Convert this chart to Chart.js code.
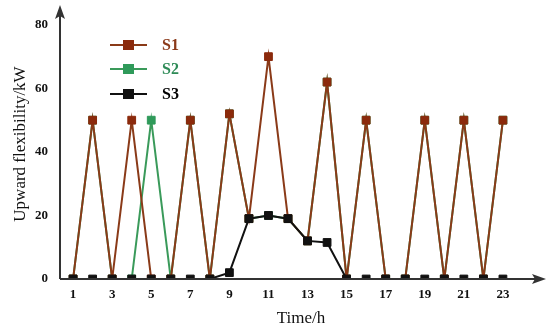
<!DOCTYPE html>
<html>
<head>
<meta charset="utf-8">
<script src="https://cdn.jsdelivr.net/npm/chart.js@4"></script>
<style>
  body { margin: 0; background: #fff; }
  #wrap { width: 550px; height: 333px; }
</style>
</head>
<body>
<div id="wrap"><canvas id="myChart" width="550" height="333"></canvas></div>
<script>
// hours on the x axis
var hours = [1,2,3,4,5,6,7,8,9,10,11,12,13,14,15,16,17,18,19,20,21,22,23];
var s1 = [0,50,0,50,0,0,50,0,52,19,70,19,12,62,0,50,0,0,50,0,50,0,50];
var s2 = [0,50,0,0,50,0,50,0,52,19,20,19,12,62,0,50,0,0,50,0,50,0,50];
var s3 = [0,0,0,0,0,0,0,0,2,19,20,19,12,11.5,0,0,0,0,0,0,0,0,0];
var yTicks = [0,20,40,60,80];
var xTicks = [1,3,5,7,9,11,13,15,17,19,21,23];

var serif = "'Liberation Serif', 'DejaVu Serif', serif";

var toPoints = function (vals) {
    return hours.map(function (h, i) { return { x: h, y: vals[i] }; });
};

// axes drawn as arrows + a legend in the upper left
var arrowsAndLegend = {
    id: 'arrowsAndLegend',
    afterDraw: function (chart) {
        var ctx = chart.ctx;
        var a = chart.chartArea;
        ctx.save();
        ctx.strokeStyle = '#333';
        ctx.fillStyle = '#333';
        ctx.lineWidth = 2;
        ctx.beginPath();
        ctx.moveTo(a.left, a.bottom);
        ctx.lineTo(a.right - 4, a.bottom);
        ctx.moveTo(a.left, a.bottom);
        ctx.lineTo(a.left, a.top + 4);
        ctx.stroke();
        ctx.beginPath();
        ctx.moveTo(a.right + 4, a.bottom);
        ctx.lineTo(a.right - 10, a.bottom - 5);
        ctx.lineTo(a.right - 7, a.bottom);
        ctx.lineTo(a.right - 10, a.bottom + 5);
        ctx.closePath();
        ctx.fill();
        ctx.beginPath();
        ctx.moveTo(a.left, a.top - 4);
        ctx.lineTo(a.left - 5, a.top + 10);
        ctx.lineTo(a.left, a.top + 7);
        ctx.lineTo(a.left + 5, a.top + 10);
        ctx.closePath();
        ctx.fill();

        var rows = [
            { label: 'S1', line: '#8a3a18', mark: '#8b2a0c', text: '#8b3a1a', y: 45 },
            { label: 'S2', line: '#3a9a5a', mark: '#2f9a5a', text: '#2e8b57', y: 69 },
            { label: 'S3', line: '#111', mark: '#111', text: '#000', y: 94 }
        ];
        rows.forEach(function (r) {
            ctx.strokeStyle = r.line;
            ctx.lineWidth = 2;
            ctx.beginPath();
            ctx.moveTo(110, r.y);
            ctx.lineTo(147, r.y);
            ctx.stroke();
            ctx.fillStyle = r.mark;
            ctx.fillRect(123, r.y - 5, 11, 10);
            ctx.fillStyle = r.text;
            ctx.font = 'bold 16px ' + serif;
            ctx.textBaseline = 'middle';
            ctx.fillText(r.label, 162, r.y + 1);
        });
        ctx.restore();
    }
};

var mkSet = function (label, vals, line, mark) {
    return {
        label: label,
        data: toPoints(vals),
        borderColor: line,
        backgroundColor: mark,
        borderWidth: 2,
        pointStyle: 'rect',
        pointRadius: 5.5,
        pointBorderWidth: 1,
        pointBorderColor: mark,
        tension: 0
    };
};

// first dataset is painted last, so S3 sits on top, then S1, then S2
const config = {
    type: 'line',
    data: {
        datasets: [
            mkSet('S3', s3, '#111', '#111'),
            mkSet('S1', s1, '#8a3a18', '#8b2a0c'),
            mkSet('S2', s2, '#3a9a5a', '#2f9a5a')
        ]
    },
    options: {
        responsive: false,
        animation: false,
        layout: { padding: { top: 9, right: 8, left: 0, bottom: 0 } },
        plugins: { legend: { display: false }, tooltip: { enabled: false } },
        scales: {
            x: {
                type: 'linear',
                min: 0.33,
                max: 25,
                grid: { display: false, drawTicks: false },
                border: { display: false },
                afterBuildTicks: function (axis) {
                    axis.ticks = xTicks.map(function (v) { return { value: v }; });
                },
                afterFit: function (axis) { axis.height = 54; },
                ticks: {
                    color: '#111',
                    padding: 8,
                    maxRotation: 0,
                    font: { family: serif, size: 13, weight: 'bold' }
                },
                title: {
                    display: true,
                    text: 'Time/h',
                    color: '#111',
                    padding: { top: 2 },
                    font: { family: serif, size: 17 }
                }
            },
            y: {
                min: 0,
                max: 85,
                grid: { display: false, drawTicks: false },
                border: { display: false },
                afterBuildTicks: function (axis) {
                    axis.ticks = yTicks.map(function (v) { return { value: v }; });
                },
                afterFit: function (axis) {
                    axis.width = 60;
                    axis.paddingTop = 0;
                    axis.paddingBottom = 0;
                },
                ticks: {
                    color: '#111',
                    padding: 12,
                    font: { family: serif, size: 13, weight: 'bold' }
                },
                title: {
                    display: true,
                    text: 'Upward flexibility/kW',
                    color: '#111',
                    padding: { top: 10, bottom: 0 },
                    font: { family: serif, size: 17 }
                }
            }
        }
    },
    plugins: [arrowsAndLegend]
};

var ctx = document.getElementById('myChart').getContext('2d');
var myChart = new Chart(ctx, config);
</script>
</body>
</html>
